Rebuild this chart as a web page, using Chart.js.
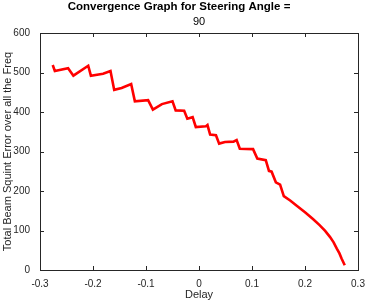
<!DOCTYPE html>
<html>
<head>
<meta charset="utf-8">
<script src="https://cdn.jsdelivr.net/npm/chart.js@4/dist/chart.umd.min.js"></script>
<style>
    html, body { margin: 0; padding: 0; background: #fff; }
    #wrap { width: 366px; height: 303px; }
</style>
</head>
<body>
<div id="wrap"><canvas id="convChart"></canvas></div>
<script>
// Data
const delay = [-0.276, -0.272, -0.247, -0.237, -0.209, -0.204, -0.181, -0.167, -0.160, -0.146,
    -0.128, -0.121, -0.096, -0.087, -0.070, -0.050, -0.044, -0.028, -0.022, -0.012,
    -0.006, 0.013, 0.016, 0.021, 0.032, 0.038, 0.049, 0.065, 0.071, 0.077,
    0.102, 0.110, 0.126, 0.132, 0.137, 0.145, 0.153, 0.160, 0.172, 0.185,
    0.200, 0.215, 0.228, 0.238, 0.247, 0.254, 0.260, 0.265, 0.269, 0.275];
const squintError = [519, 504, 511, 492, 517, 492, 497, 504, 456, 461,
    471, 427, 430, 406, 420, 427, 404, 403, 383, 387,
    362, 364, 367, 343, 341, 320, 324, 325, 329, 307,
    306, 282, 278, 251, 249, 222, 216, 187, 176, 162,
    146, 129, 113, 99, 84, 70, 54, 42, 29, 12];
const xTicks = [-0.3, -0.2, -0.1, 0, 0.1, 0.2, 0.3];
const yTicks = [0, 100, 200, 300, 400, 500, 600];

const axisColor = '#262626';
const fontFamily = 'Liberation Sans, Arial, Helvetica, sans-serif';

// MATLAB-style box with inward ticks on all four sides
const boxPlugin = {
    id: 'boxTicks',
    afterDraw(chart) {
        const { ctx, chartArea: a, scales: { x, y } } = chart;
        ctx.save();
        ctx.strokeStyle = axisColor;
        ctx.lineWidth = 1;
        ctx.strokeRect(a.left + 0.5, a.top + 0.5, a.right - a.left, a.bottom - a.top);
        ctx.beginPath();
        xTicks.forEach(v => {
            const px = Math.round(x.getPixelForValue(v)) + 0.5;
            ctx.moveTo(px, a.bottom); ctx.lineTo(px, a.bottom - 4);
            ctx.moveTo(px, a.top); ctx.lineTo(px, a.top + 4);
        });
        yTicks.forEach(v => {
            const py = Math.round(y.getPixelForValue(v)) + 0.5;
            ctx.moveTo(a.left, py); ctx.lineTo(a.left + 4, py);
            ctx.moveTo(a.right, py); ctx.lineTo(a.right - 4, py);
        });
        ctx.stroke();
        ctx.restore();
    }
};

document.addEventListener('DOMContentLoaded', function() {
    const ctx = document.getElementById('convChart');
    new Chart(ctx.getContext('2d'), {
        type: 'line',
        data: {
            datasets: [{
                data: delay.map((d, i) => ({ x: d, y: squintError[i] })),
                borderColor: '#ff0000',
                borderWidth: 2.6,
                pointRadius: 0,
                tension: 0,
                fill: false
            }]
        },
        options: {
            responsive: true,
            maintainAspectRatio: false,
            animation: false,
            layout: { padding: { left: 0, right: 8, top: 0, bottom: 0 } },
            plugins: {
                legend: { display: false },
                tooltip: { enabled: false },
                title: {
                    display: true,
                    text: 'Convergence Graph for Steering Angle =',
                    color: '#000',
                    font: { family: fontFamily, size: 11.5, weight: 'bold' },
                    padding: { top: 0, bottom: 1 }
                },
                subtitle: {
                    display: true,
                    fullSize: false,
                    text: '90',
                    color: '#000',
                    font: { family: fontFamily, size: 11 },
                    padding: { top: 1, bottom: 4 }
                }
            },
            scales: {
                x: {
                    type: 'linear',
                    min: -0.3,
                    max: 0.3,
                    afterBuildTicks: s => { s.ticks = xTicks.map(v => ({ value: v })); },
                    afterFit: s => { s.height = 33; },
                    grid: { display: false },
                    border: { display: false },
                    ticks: {
                        color: axisColor,
                        font: { family: fontFamily, size: 10 },
                        padding: 0,
                        maxRotation: 0,
                        callback: v => String(Math.round(v * 10) / 10)
                    },
                    title: {
                        display: true,
                        text: 'Delay',
                        color: axisColor,
                        font: { family: fontFamily, size: 11 },
                        padding: { top: 0, bottom: 1 }
                    }
                },
                y: {
                    min: 0,
                    max: 600,
                    afterBuildTicks: s => { s.ticks = yTicks.map(v => ({ value: v })); },
                    afterFit: s => { s.width = 40; },
                    grid: { display: false },
                    border: { display: false },
                    ticks: {
                        color: axisColor,
                        font: { family: fontFamily, size: 10 },
                        padding: 2
                    },
                    title: {
                        display: true,
                        text: 'Total Beam Squint Error over all the Freq',
                        color: axisColor,
                        font: { family: fontFamily, size: 11 },
                        padding: { top: 1, bottom: 0 }
                    }
                }
            }
        },
        plugins: [boxPlugin]
    });
});
</script>
</body>
</html>
